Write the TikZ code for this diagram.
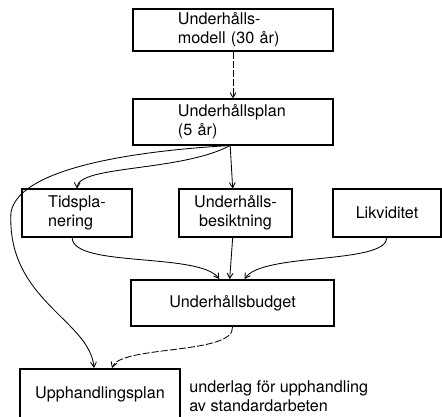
\documentclass[tikz,border=0pt]{standalone}
\usepackage{fontspec}
\setmainfont{TeX Gyre Heros}
\usepackage{tikz}
\usetikzlibrary{arrows}

\begin{document}
\begin{tikzpicture}[x=0.025cm, y=-0.025cm,
        font=\fontsize{11.5}{13.5}\selectfont,
        box/.style={draw, line width=1.3pt, rectangle, inner sep=2pt},
        arrow/.style={line width=0.6pt, ->, >=angle 60},
        dasharrow/.style={arrow, dash pattern=on 5pt off 1.5pt}
    ]
        \clip (0,0) rectangle (442,416);
        \node (modell) [box, minimum width=5cm, minimum height=1.05cm, text width=2.75cm, align=left] at (233,30) {Underhålls-\\modell (30 år)};
        \node (plan) [box, minimum width=5cm, minimum height=1.13cm, text width=2.75cm, align=left] at (233,122) {Underhållsplan\\(5 år)};
        \node (tid) [box, minimum width=2.75cm, minimum height=1.18cm, align=left] at (77,213) {Tidspla-\\nering};
        \node (besikt) [box, minimum width=2.83cm, minimum height=1.18cm, align=center] at (235.5,213) {Underhålls-\\besiktning};
        \node (likv) [box, minimum width=2.7cm, minimum height=1.18cm] at (387,213) {Likviditet};
        \node (budget) [box, minimum width=5.08cm, minimum height=1.15cm] at (232.5,303) {Underhållsbudget};
        \node (upph) [box, minimum width=4cm, minimum height=1.28cm] at (100,394.5) {Upphandlingsplan};
        \node (underlag) [anchor=west, align=left, inner sep=0pt] at (189,396) {underlag för upphandling\\av standardarbeten};
        \draw [dasharrow] (modell) -- (plan);
        \draw [arrow] ([xshift=-2pt]plan.south) -- ([xshift=-2pt]besikt.north);
        \draw [arrow] ([xshift=-2pt]plan.south) .. controls (180,172) and (78,165) .. (tid.north);
        \draw [arrow] ([xshift=-2pt]plan.south) .. controls (150,150) and (20,165) .. (11,212)
            .. controls (6,300) and (90,320) .. ([xshift=-0.15cm]upph.north);
        \draw [arrow] ([xshift=-0.12cm]tid.south) .. controls (72,268) and (200,252) .. ([xshift=-0.33cm]budget.north);
        \draw [arrow] ([xshift=-2pt]besikt.south) -- ([xshift=-2pt]budget.north);
        \draw [arrow] (likv.south) .. controls (386,265) and (262,252) .. ([xshift=0.3cm]budget.north);
        \draw [dasharrow] (budget.south) .. controls (235,355) and (120,345) .. ([xshift=0.3cm]upph.north);
\end{tikzpicture}
\end{document}
